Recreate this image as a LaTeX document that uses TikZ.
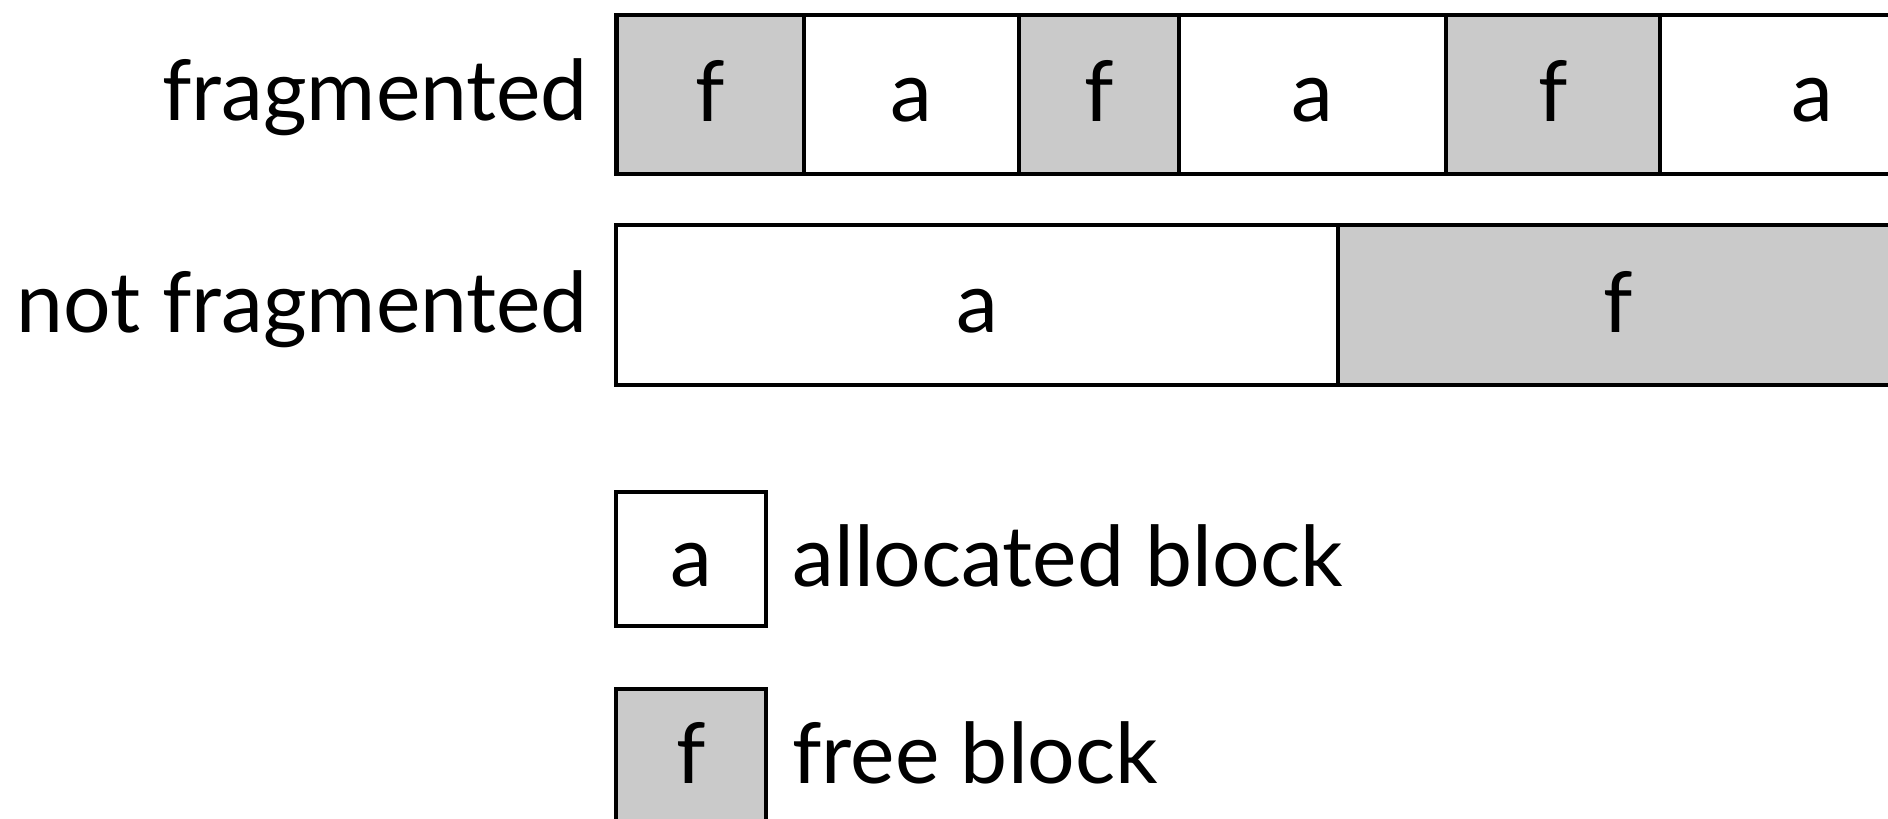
\documentclass[tikz,border=0pt]{standalone}
\usepackage{fontspec}
\setmainfont{Lato}
\usepackage{xcolor}
\usetikzlibrary{positioning}
\definecolor{freegray}{HTML}{CACACA}

\begin{document}
\begin{tikzpicture}
            [x=1pt,y=-1pt,
             font=\fontsize{84}{100}\selectfont,
             blk/.style={draw,line width=4.5pt,inner sep=0pt,text height=54pt,text depth=0pt},
             free/.style={blk,fill=freegray},
             used/.style={blk,fill=white},
             lbl/.style={inner sep=0pt}]
            \useasboundingbox (0,0) rectangle (1888,819);

            % fragmented row
            \node[free,minimum width=187.5pt,minimum height=159pt] (frag1) at (710.25,94.5) {f};
            \node[used,minimum width=215pt,minimum height=159pt] (frag2) at (911.5,94.5) {a};
            \node[free,minimum width=160pt,minimum height=159pt] (frag3) at (1099,94.5) {f};
            \node[used,minimum width=267pt,minimum height=159pt] (frag4) at (1312.5,94.5) {a};
            \node[free,minimum width=214pt,minimum height=159pt] (frag5) at (1553,94.5) {f};
            \node[used,minimum width=304pt,minimum height=159pt] (frag6) at (1812,94.5) {a};
            \node[lbl,anchor=base east] at (588,120) {fragmented};

            % not fragmented row
            \node[used,minimum width=722pt,minimum height=160pt] (nf1) at (977,305) {a};
            \node[free,minimum width=560pt,minimum height=160pt] (nf2) at (1618,305) {f};
            \node[lbl,anchor=base east] at (588,332) {not fragmented};

            % legend
            \node[used,minimum width=150pt,minimum height=134pt] (legA) at (691,559) {a};
            \node[lbl,right=24pt of legA.base east,anchor=base west] {allocated block};
            \node[free,minimum width=150pt,minimum height=134pt] (legF) at (691,756) {f};
            \node[lbl,right=24pt of legF.base east,anchor=base west] {free block};
        \end{tikzpicture}
\end{document}
